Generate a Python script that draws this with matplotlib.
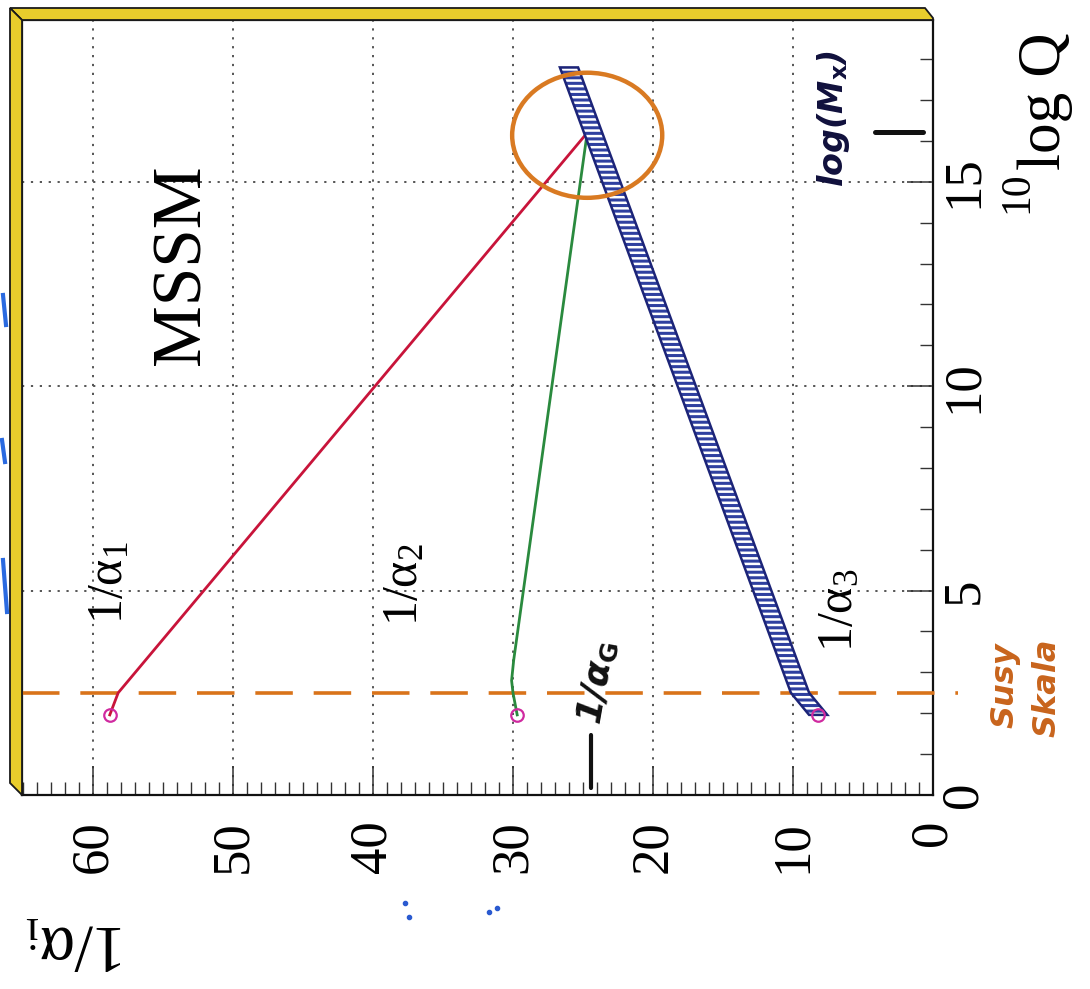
import matplotlib
matplotlib.use("Agg")
import matplotlib.pyplot as plt
from matplotlib.patches import Ellipse, Polygon
from matplotlib.lines import Line2D
import numpy as np

# ---------------- data ----------------
alpha1_logq = [1.96, 2.5, 16.2]
alpha1_inv = [58.8, 58.2, 24.7]

alpha2_logq = [1.96, 2.5, 2.8, 3.3, 16.2]
alpha2_inv = [29.7, 30.0, 30.1, 29.95, 24.7]

alpha3_logq = [1.96, 2.5, 17.8]
alpha3_inv = [8.2, 9.5, 26.0]
alpha3_halfwidth = 0.65

susy_logq = 2.5
unif_logq = 16.2
unif_inv = 24.7

x_ticks = [0, 10, 20, 30, 40, 50, 60]        # 1/alpha_i
y_ticks = [0, 5, 10, 15]                     # 10log Q
x_max = 65.07
y_max = 18.96

curve_labels = [r'$\mathrm{1/α_{1}}$', r'$\mathrm{1/α_{2}}$', r'$\mathrm{1/α_{3}}$']

# ---------------- style ----------------
plt.rcParams['font.family'] = ['Liberation Serif', 'DejaVu Serif']
plt.rcParams['mathtext.fontset'] = 'custom'
plt.rcParams['mathtext.rm'] = 'Liberation Serif'
plt.rcParams['mathtext.it'] = 'Liberation Serif:italic'
plt.rcParams['lines.scale_dashes'] = False
plt.rcParams['hatch.linewidth'] = 1.8

W, H = 1090, 989
fig = plt.figure(figsize=(W / 100, H / 100), dpi=100)
fig.patch.set_facecolor('white')


def fx(x):
    return x / W


def fy(y):
    return 1 - y / H


ax = fig.add_axes([fx(22), fy(795), (933 - 22) / W, (795 - 20) / H])
ax.set_xlim(x_max, 0)
ax.set_ylim(0, y_max)
ax.set_axisbelow(True)

# grid
ax.grid(True, which='major', linestyle=(0, (1.6, 4.8)), color='#555555', linewidth=1.4)

# ticks
ax.set_xticks(x_ticks)
ax.set_xticklabels([str(t) for t in x_ticks])
ax.set_xticks(np.arange(0, 66, 1), minor=True)
ax.set_yticks(y_ticks)
ax.set_yticks(np.arange(0, 19, 1), minor=True)
ax.yaxis.tick_right()
ax.set_yticklabels([str(t) for t in y_ticks])
ax.tick_params(axis='x', which='major', direction='in', length=21, width=1.1,
               color='#333333', labelsize=38, labelrotation=90, pad=18)
ax.tick_params(axis='y', which='major', direction='in', length=19, width=1.1,
               color='#333333', labelsize=38, labelrotation=90, pad=5,
               left=False, right=True, labelleft=False, labelright=True)
ax.tick_params(which='minor', direction='in', length=9.5, width=1.0, color='#333333')
ax.tick_params(axis='y', which='minor', left=False, right=True)
for lbl in ax.get_yticklabels():
    lbl.set_verticalalignment('center')
for sp in ax.spines.values():
    sp.set_linewidth(1.6)
    sp.set_color('#111111')

# SUSY scale dashed line (extends out past the frame)
ax.plot([x_max, -1.8], [susy_logq, susy_logq], color='#d9731a', lw=2.6,
        dashes=(27, 15), clip_on=False, zorder=3, solid_capstyle='round')

# alpha_1 and alpha_2
ax.plot(alpha1_inv, alpha1_logq, color='#c8143a', lw=2.0, zorder=4)
ax.plot(alpha2_inv, alpha2_logq, color='#2a8a3e', lw=2.0, zorder=4)

# alpha_3 hatched band
lo = [v - alpha3_halfwidth for v in alpha3_inv]
hi = [v + alpha3_halfwidth for v in alpha3_inv]
ax.fill_betweenx(alpha3_logq, lo, hi, facecolor='#2f40a0', edgecolor='white',
                 lw=0, hatch='---', zorder=5)
ax.fill(lo + hi[::-1], alpha3_logq + alpha3_logq[::-1], fill=False,
        edgecolor='#1c2478', lw=1.8, zorder=5)

# starting points
ax.plot([alpha1_inv[0], alpha2_inv[0], alpha3_inv[0]],
        [alpha1_logq[0], alpha2_logq[0], alpha3_logq[0]], 'o', mfc='none',
        mec='#d02aa0', ms=9, mew=1.6, zorder=6)

# orange circle around unification
ax.add_patch(Ellipse((unif_inv, 16.14), width=2 * 5.36, height=2 * 1.53,
                     fill=False, edgecolor='#d97a22', lw=3.2, zorder=6))

# curve labels
ax.text(58.8, 5.21, curve_labels[0], rotation=90, fontsize=36, ha='center', va='center')
ax.text(37.7, 5.16, curve_labels[1], rotation=90, fontsize=36, ha='center', va='center')
ax.text(6.64, 4.53, curve_labels[2], rotation=90, fontsize=36, ha='center', va='center')
ax.text(53.6, 12.97, 'MSSM', rotation=90, fontsize=50, ha='center', va='center')

# handwritten annotations
hand = dict(family=['DejaVu Sans'], style='italic', weight='bold')
ax.text(7.14, 16.56, r'log(M$_\mathbf{x}$)', rotation=90, fontsize=24,
        color='#10103c', ha='center', va='center', **hand)
ax.plot([4.14, 0.71], [16.22, 16.22], color='#111111', lw=3.6,
        solid_capstyle='round', zorder=7)
ax.text(24.0, 2.76, r'1/α$_\mathbf{G}$', rotation=80, fontsize=26,
        color='#111111', ha='center', va='center', **hand)
ax.plot([24.4, 24.4], [0.17, 1.47], color='#111111', lw=3.0,
        solid_capstyle='round', zorder=7)

fig.text(fx(1005), fy(685), 'Susy', rotation=90, fontsize=23, color='#c8641c',
         ha='center', va='center', **hand)
fig.text(fx(1047), fy(688), 'Skala', rotation=90, fontsize=23, color='#c8641c',
         ha='center', va='center', **hand)

# axis labels (rotated page)
fig.text(fx(1060), fy(170), 'log Q', rotation=90, rotation_mode='anchor',
         ha='left', va='baseline', fontsize=44)
fig.text(fx(1027), fy(213), '10', rotation=90, rotation_mode='anchor',
         ha='left', va='baseline', fontsize=30)
fig.text(fx(127), fy(925), r'$\mathrm{1/α_{i}}$', rotation=180, rotation_mode='anchor',
         ha='left', va='baseline', fontsize=48)

# yellow 3D bevel of the frame
bevel_kw = dict(closed=True, facecolor='#e8cd2c', edgecolor='#1a1a1a', lw=1.3,
                transform=fig.transFigure)
top = [(10, 8), (925, 8), (933, 18), (933, 20), (22, 20)]
left = [(10, 8), (22, 20), (22, 795), (10, 783)]
fig.add_artist(Polygon([(fx(a), fy(b)) for a, b in top], **bevel_kw))
fig.add_artist(Polygon([(fx(a), fy(b)) for a, b in left], **bevel_kw))

# stray blue pen marks
for (x0, y0, x1, y1) in [(3, 295, 6, 325), (2, 440, 5, 462), (3, 560, 7, 612)]:
    fig.add_artist(Line2D([fx(x0), fx(x1)], [fy(y0), fy(y1)], color='#2a6ae0',
                          lw=3, transform=fig.transFigure))
for (x0, y0) in [(405, 903), (409, 917), (489, 912), (497, 908)]:
    fig.add_artist(Line2D([fx(x0)], [fy(y0)], marker='o', ms=3, color='#2a5ad0',
                          transform=fig.transFigure))

fig.savefig('out.png', dpi=100)
